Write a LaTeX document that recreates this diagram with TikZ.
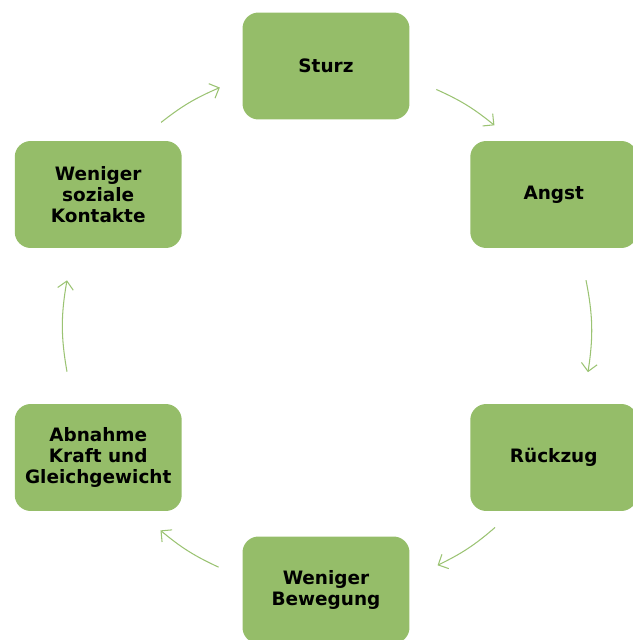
\documentclass[tikz,border=0pt]{standalone}
\usepackage{fontspec}
\setmainfont{DejaVu Sans}
\usetikzlibrary{arrows.meta, calc}

\definecolor{boxgreen}{HTML}{95BD69}
\definecolor{arrowgreen}{HTML}{9BC373}

\begin{document}
\begin{tikzpicture}[x=0.02cm, y=0.02cm,
    stepbox/.style={rectangle, rounded corners=0.32cm, fill=boxgreen, draw=none,
        minimum width=3.34cm, minimum height=2.14cm, align=center,
        font=\fontsize{10.5}{11.8}\selectfont\bfseries},
    cyc/.style={draw=arrowgreen, line width=0.6pt,
        -{Straight Barb[length=4.5pt, width=9pt]}}]
    \useasboundingbox (0, 0) rectangle (633, 640);
    \coordinate (c) at (326, 314);
    % boxes on the circle
    \node[stepbox] (sturz) at ($(c)+(90:260)$) {Sturz};
    \node[stepbox] (angst) at ($(c)+(30:263)$) {Angst};
    \node[stepbox] (rueckzug) at ($(c)+(-30:263)$) {Rückzug};
    \node[stepbox] (bewegung) at ($(c)+(-90:264)$) {Weniger\\Bewegung};
    \node[stepbox] (kraft) at ($(c)+(-150:263)$) {Abnahme\\Kraft und\\Gleichgewicht};
    \node[stepbox] (kontakte) at ($(c)+(150:263)$) {Weniger\\soziale\\Kontakte};
    % arrow ends
    \coordinate (a1) at ($(c)+(65:261)$);
    \coordinate (b1) at ($(c)+(50:262)$);
    \coordinate (a2) at ($(c)+(10:264)$);
    \coordinate (b2) at ($(c)+(-10:266)$);
    \coordinate (a3) at ($(c)+(-50:263)$);
    \coordinate (b3) at ($(c)+(-65:264)$);
    \coordinate (a4) at ($(c)+(-114:264)$);
    \coordinate (b4) at ($(c)+(-129:263)$);
    \coordinate (a5) at ($(c)+(190:263)$);
    \coordinate (b5) at ($(c)+(170:263)$);
    \coordinate (a6) at ($(c)+(129:262)$);
    \coordinate (b6) at ($(c)+(114:261)$);
    \draw[cyc] (a1) to[bend left=7.5] (b1);
    \draw[cyc] (a2) to[bend left=10] (b2);
    \draw[cyc] (a3) to[bend left=7.5] (b3);
    \draw[cyc] (a4) to[bend left=7.5] (b4);
    \draw[cyc] (a5) to[bend left=10] (b5);
    \draw[cyc] (a6) to[bend left=7.5] (b6);
\end{tikzpicture}
\end{document}
